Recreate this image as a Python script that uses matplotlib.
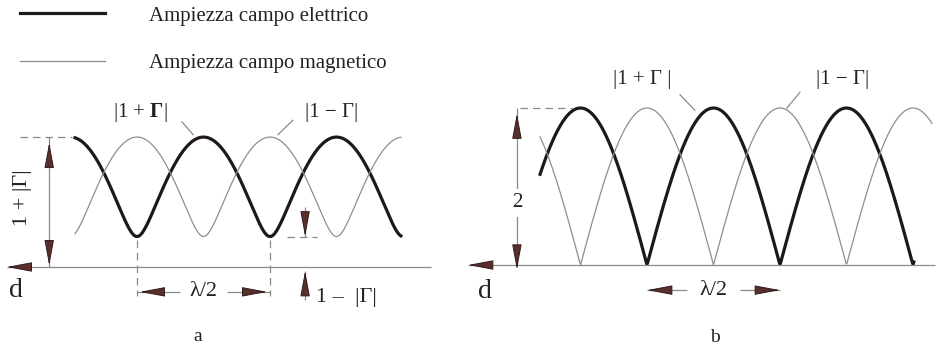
import numpy as np
import matplotlib.pyplot as plt

plt.rcParams['font.family'] = ['Liberation Serif', 'DejaVu Serif']
plt.rcParams['mathtext.fontset'] = 'custom'
plt.rcParams['mathtext.rm'] = 'Liberation Serif'
plt.rcParams['mathtext.bf'] = 'Liberation Serif:bold'

# reflection coefficient of the load in each case
gamma_a = -0.62      # partial reflection
gamma_b = -1.0       # total reflection
half_wave = 0.5      # lambda / 2, positions are d / lambda

# stretch of line drawn (d / lambda)
span_a = [-0.233, 0.992]
span_b_e = [-0.402, 1.003]
span_b_h = [-0.402, 1.071]

legend_labels = ['Ampiezza campo elettrico', 'Ampiezza campo magnetico']

THICK = '#1e1818'
THIN = '#8e8e8e'
GREY = '#8a8a8a'
HEAD = '#5a2e2a'
EDGE = '#2e1c1a'
TEXT = '#222222'

W, H = 938, 345
fig = plt.figure(figsize=(W / 100, H / 100), dpi=100)


def panel_axes(x0, y0, sx, sy):
    # full-canvas axes; (x0, y0) is where d=0, |V|=0 lands (y from top)
    ax = fig.add_axes([0, 0, 1, 1])
    ax.set_xlim(-x0 / sx, (W - x0) / sx)
    ax.set_ylim(-(H - y0) / sy, y0 / sy)
    ax.axis('off')
    ax.patch.set_alpha(0)
    return ax


def head(ax, tip, dx, dy):
    # filled arrow head ending at tip, coming from (dx, dy) points away
    ax.annotate('', xy=tip, xytext=(dx, dy), textcoords='offset points',
                arrowprops=dict(arrowstyle='-|>,head_length=1.6,head_width=0.3',
                                mutation_scale=10, shrinkA=0, shrinkB=0,
                                fc=HEAD, ec=EDGE, lw=0.7))


def stem(ax, xs, ys, ls='-'):
    ax.plot(xs, ys, color=GREY, lw=0.9, ls=ls, dashes=(6, 4) if ls == '--' else (None, None),
            solid_capstyle='butt')


def pattern(gamma, span, sign):
    u = np.linspace(span[0], span[1], 600)
    return u, np.abs(1 + sign * gamma * np.exp(1j * 4 * np.pi * u))


# ---- panel a ----
ax = panel_axes(137, 267, 266, 80.2)
g = abs(gamma_a)
u, e = pattern(gamma_a, span_a, 1)
ax.plot(u, e, color=THICK, lw=2.3, label=legend_labels[0])
u, h = pattern(gamma_a, span_a, -1)
ax.plot(u, h, color=THIN, lw=0.9, label=legend_labels[1])

# d axis
stem(ax, [-0.49, 1.105], [0, 0])
head(ax, (-0.49, 0), 17, 0)
ax.text(-0.455, -0.29, 'd', fontsize=20, color=TEXT, ha='center', va='center')

# 1 + |G|
stem(ax, [-0.44, -0.244], [1 + g, 1 + g], '--')
stem(ax, [-0.33, -0.33], [0, 1 + g])
head(ax, (-0.33, 1 + g - 0.07), 0, -16)
head(ax, (-0.33, 0.02), 0, 16)
ax.text(-0.43, 0.87, '1 + |Γ|', fontsize=16, color=TEXT, rotation=90,
        ha='center', va='center')

# 1 - |G|
stem(ax, [0.564, 0.677], [1 - g, 1 - g], '--')
stem(ax, [0.632, 0.632], [0.75, 1 - g])
head(ax, (0.632, 1 - g), 0, 16)
stem(ax, [0.632, 0.632], [-0.41, -0.05])
head(ax, (0.632, -0.05), 0, -16)
ax.text(0.672, -0.38, '1 –  |Γ|', fontsize=16, color=TEXT, ha='left', va='center')

# lambda / 2 between two minima
for x in [0, half_wave]:
    stem(ax, [x, x], [1 - g - 0.04, -0.36], '--')
stem(ax, [0, 0.16], [-0.31, -0.31])
stem(ax, [0.34, half_wave], [-0.31, -0.31])
head(ax, (0.01, -0.31), 16, 0)
head(ax, (half_wave - 0.01, -0.31), -16, 0)
ax.text(half_wave / 2, -0.31, 'λ/2', fontsize=16, color=TEXT, ha='center', va='center')

ax.text(0.011, 1.93, r'|1 + $\mathbf{\Gamma}$|', fontsize=15, color=TEXT,
        ha='center', va='center')
ax.plot([0.169, 0.211], [1.81, 1.65], color=GREY, lw=0.9)
ax.text(0.733, 1.93, '|1 − Γ|', fontsize=15, color=TEXT, ha='center', va='center')
ax.plot([0.586, 0.530], [1.83, 1.65], color=GREY, lw=0.9)
ax.text(0.23, -0.87, 'a', fontsize=14, color=TEXT, ha='center', va='center')

fig.legend(loc='upper left', bbox_to_anchor=(20 / W, 1 - 6 / H), frameon=False,
           fontsize=15, handlelength=4.1, handletextpad=2.1, labelspacing=1.35,
           borderpad=0, borderaxespad=0, labelcolor=TEXT)

# ---- panel b ----
ax = panel_axes(647, 265, 266, 78.5)
gb = abs(gamma_b)
u, e = pattern(gamma_b, span_b_e, 1)
ax.plot(u, e, color=THICK, lw=2.3)
u, h = pattern(gamma_b, span_b_h, -1)
ax.plot(u, h, color=THIN, lw=0.9)

stem(ax, [-0.673, 1.083], [0, 0])
head(ax, (-0.673, 0), 17, 0)
ax.text(-0.609, -0.34, 'd', fontsize=20, color=TEXT, ha='center', va='center')

stem(ax, [-0.477, -0.282], [1 + gb, 1 + gb], '--')
stem(ax, [-0.489, -0.489], [0, 1 + gb])
head(ax, (-0.489, 1 + gb - 0.07), 0, -16)
head(ax, (-0.489, -0.06), 0, 16)
ax.text(-0.489, 0.79, '2', fontsize=15, color=TEXT, ha='center', va='center',
        bbox=dict(fc='white', ec='none', pad=3))

stem(ax, [0, 0.15], [-0.32, -0.32])
stem(ax, [0.35, half_wave], [-0.32, -0.32])
head(ax, (0.0, -0.32), 16, 0)
head(ax, (half_wave, -0.32), -16, 0)
ax.text(half_wave / 2, -0.32, 'λ/2', fontsize=16, color=TEXT, ha='center', va='center')

ax.text(-0.019, 2.36, '|1 + Γ |', fontsize=15, color=TEXT, ha='center', va='center')
ax.plot([0.124, 0.180], [2.17, 1.97], color=GREY, lw=0.9)
ax.text(0.737, 2.36, '|1 − Γ|', fontsize=15, color=TEXT, ha='center', va='center')
ax.plot([0.575, 0.526], [2.20, 2.0], color=GREY, lw=0.9)
ax.text(0.256, -0.92, 'b', fontsize=14, color=TEXT, ha='center', va='center')

fig.savefig('out.png', dpi=100, facecolor='white')
